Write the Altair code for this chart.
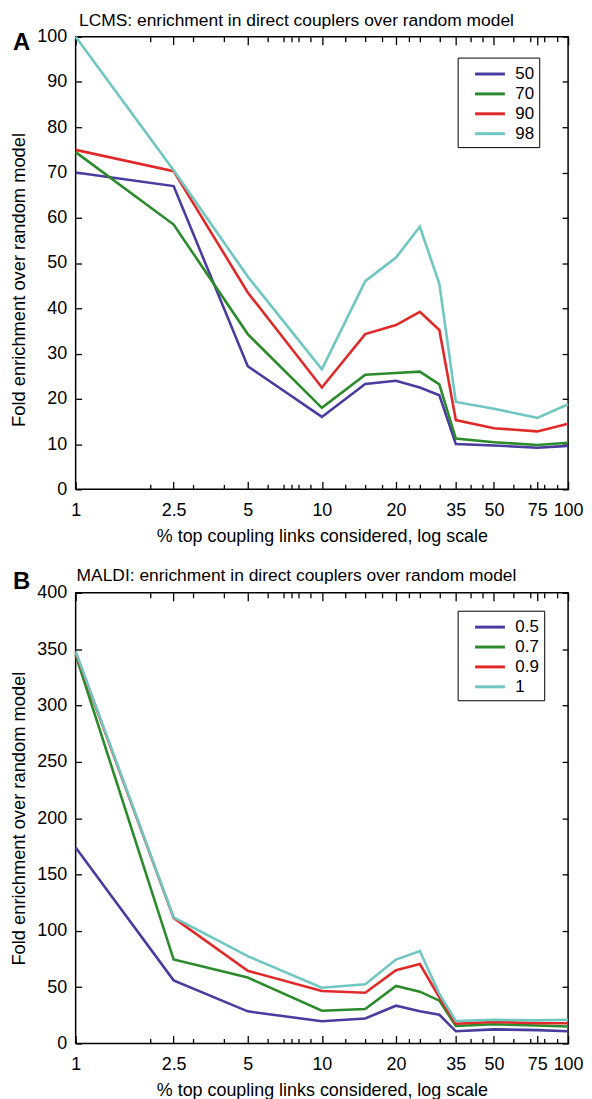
import altair as alt
import pandas as pd

FONT = "Liberation Sans"

# x positions (% top coupling links)
pct = [1, 2.5, 5, 10, 15, 20, 25, 30, 35, 50, 75, 100]

# Panel A: LCMS
lcms_series = ["50", "70", "90", "98"]
lcms_50 = [70.0, 67.0, 27.2, 16.0, 23.3, 24.0, 22.5, 20.8, 10.0, 9.7, 9.2, 9.6]
lcms_70 = [74.5, 58.5, 34.3, 18.0, 25.3, 25.7, 26.0, 23.2, 11.2, 10.4, 9.8, 10.3]
lcms_90 = [75.0, 70.3, 43.5, 22.5, 34.3, 36.3, 39.2, 35.2, 15.3, 13.5, 12.8, 14.5]
lcms_98 = [100.0, 70.5, 47.0, 26.5, 46.0, 51.2, 58.0, 45.4, 19.3, 17.8, 15.8, 18.8]

# Panel B: MALDI
maldi_series = ["0.5", "0.7", "0.9", "1"]
maldi_05 = [174.0, 56.0, 28.5, 19.7, 22.2, 33.5, 28.5, 25.5, 10.8, 12.5, 11.8, 10.8]
maldi_07 = [345.0, 74.5, 58.5, 29.0, 30.5, 51.0, 46.0, 38.0, 15.5, 17.0, 16.0, 15.0]
maldi_09 = [347.0, 111.5, 64.5, 46.5, 45.0, 65.0, 70.5, 41.0, 17.5, 19.0, 18.0, 18.0]
maldi_1 = [348.0, 112.0, 77.5, 49.5, 52.5, 74.5, 82.0, 44.0, 20.0, 21.0, 20.5, 21.0]

colors = ["#483c9e", "#2b8a2b", "#e02a2a", "#70c6c0"]

major_ticks = [1, 2.5, 5, 10, 20, 35, 50, 75, 100]
minor_ticks = [2, 3, 4, 6, 7, 7.5, 8, 9, 12.5, 15, 17.5, 22.5, 25, 30, 40, 45, 60, 70, 80, 90]
lcms_yticks = list(range(0, 101, 10))
maldi_yticks = list(range(0, 401, 50))

XTITLE = "% top coupling links considered, log scale"
YTITLE = "Fold enrichment over random model"

W = 495


def panel(title, title_offset, letter, letter_y, series, values, yticks, ymax,
          height, legend_y, ytitle_y):
    rows = []
    for s, vals in zip(series, values):
        for p, v in zip(pct, vals):
            rows.append({"pct": p, "val": v, "series": s})
    df = pd.DataFrame(rows)
    xscale = alt.Scale(type="log", domain=[1, 100], nice=False)
    yscale = alt.Scale(domain=[0, ymax], nice=False, zero=True)

    def xaxis(orient, vals, size, labels, ttl=None):
        kw = dict(orient=orient, values=vals, tickSize=size, offset=-size,
                  domain=False, grid=False, labels=labels, ticks=True)
        if labels:
            kw.update(labelExpr="format(datum.value, '~g')", labelPadding=12,
                      labelFontSize=18, labelFlush=False, labelOverlap=False)
        if ttl:
            kw.update(title=ttl, titleFontSize=18, titlePadding=8,
                      titleFontWeight="normal")
        else:
            kw.update(title=None)
        return alt.Axis(**kw)

    def yaxis(orient, labels):
        kw = dict(orient=orient, values=yticks, tickSize=6, offset=-6,
                  domain=False, grid=False, labels=labels)
        if labels:
            kw.update(labelPadding=9, labelFontSize=18, title=YTITLE,
                      titleFontSize=18.4, titlePadding=8, labelFlush=False,
                      titleFontWeight="normal")
            if ytitle_y is not None:
                kw.update(titleY=ytitle_y)
        else:
            kw.update(title=None)
        return alt.Axis(**kw)

    base = alt.Chart(df)
    lines = base.mark_line(strokeWidth=2.6).encode(
        x=alt.X("pct:Q", scale=xscale, axis=xaxis("bottom", major_ticks, 8, True, XTITLE)),
        y=alt.Y("val:Q", scale=yscale, axis=yaxis("left", True)),
        color=alt.Color(
            "series:N",
            scale=alt.Scale(domain=series, range=colors),
            sort=series,
            legend=alt.Legend(
                orient="none", legendX=384, legendY=legend_y, title=None,
                strokeColor="black", fillColor="white", padding=5,
                symbolType="M-1.5,0H1.5", symbolStrokeWidth=3, symbolSize=400,
                symbolOffset=16, labelFontSize=17, labelFont=FONT, labelOffset=14,
                rowPadding=0, labelColor="black",
            ),
        ),
        order=alt.Order("pct:Q"),
    )
    ghost_bottom = base.mark_line(strokeOpacity=0).encode(
        x=alt.X("pct:Q", scale=xscale, axis=xaxis("bottom", minor_ticks, 5, False)),
        y=alt.Y("val:Q", scale=yscale, axis=yaxis("right", False)),
        detail="series:N",
    )
    ghost_top_major = base.mark_line(strokeOpacity=0).encode(
        x=alt.X("pct:Q", scale=xscale, axis=xaxis("top", major_ticks, 8, False)),
        y=alt.Y("val:Q", scale=yscale, axis=None),
        detail="series:N",
    )
    ghost_top_minor = base.mark_line(strokeOpacity=0).encode(
        x=alt.X("pct:Q", scale=xscale, axis=xaxis("top", minor_ticks, 5, False)),
        y=alt.Y("val:Q", scale=yscale, axis=None),
        detail="series:N",
    )
    letter_txt = alt.Chart(pd.DataFrame({"t": [letter]})).mark_text(
        font=FONT, fontSize=24, fontWeight="bold", align="left", baseline="middle",
        color="black",
    ).encode(x=alt.value(-63), y=alt.value(letter_y), text="t:N")

    return alt.layer(
        lines, ghost_bottom, ghost_top_major, ghost_top_minor, letter_txt
    ).resolve_axis(x="independent", y="independent").properties(
        width=W, height=height,
        title=alt.TitleParams(title, fontSize=17.5, font=FONT, fontWeight="normal",
                              offset=title_offset, anchor="middle", frame="bounds",
                              color="black"),
    )


top = panel("LCMS: enrichment in direct couplers over random model", -2, "A", 6,
            lcms_series, [lcms_50, lcms_70, lcms_90, lcms_98],
            lcms_yticks, 100, 455, 21, 244)
bottom = panel("MALDI: enrichment in direct couplers over random model", -15, "B", -11,
               maldi_series, [maldi_05, maldi_07, maldi_09, maldi_1],
               maldi_yticks, 400, 453, 18, None)

chart = alt.vconcat(top, bottom, spacing=20).resolve_scale(
    color="independent"
).properties(
    padding={"left": 1, "top": 0, "right": 0, "bottom": 0}
).configure(
    font=FONT
).configure_view(
    stroke="black", strokeWidth=1.5
).configure_axis(
    tickColor="black", tickWidth=1.3, labelColor="black", titleColor="black",
    labelFont=FONT, titleFont=FONT, titleFontWeight="normal",
)

chart.save("out.html", embed_options={"renderer": "svg", "actions": False})
